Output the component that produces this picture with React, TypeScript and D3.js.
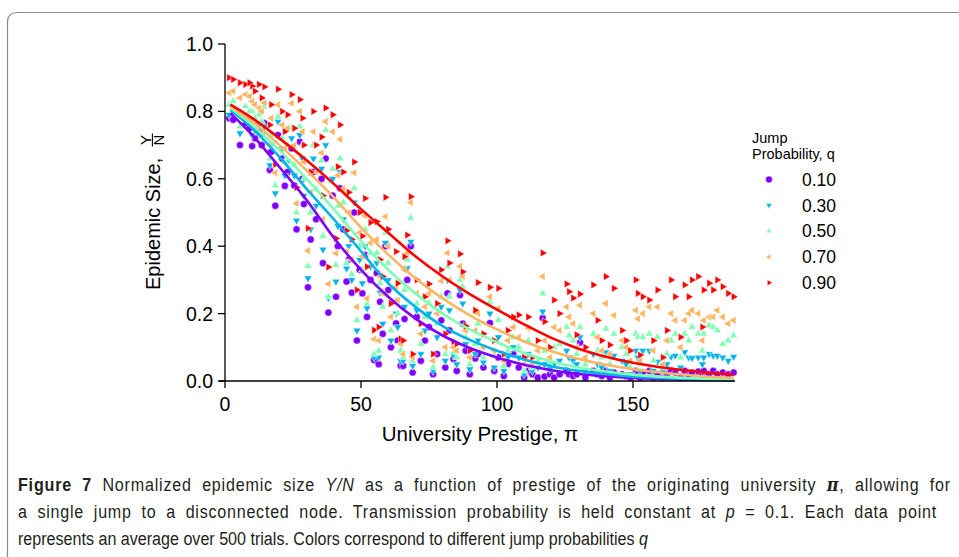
import React, { useLayoutEffect, useRef, useState } from "react";
import * as d3 from "d3";

// ---- data ----
const prestige = [1.5,3,5.5,7.5,10,12.5,14.5,16.5,18.5,19.5,22,24.5,26.3,27.5,29,30.5,32.5,35.5,37,38,39.6,40.8,41.5,42.3,44.7,46.6,47.5,49.5,51.5,52.2,54.8,55.8,57,59,61,62.9,64.6,65.5,66,67,68.3,69,70.5,72,73.5,75,76.5,78,79.5,81,81.8,82.5,84,85.2,86.4,87.4,88.5,90,92,93,95,97.4,99,100.5,102.5,104,106,108,110,111.5,113,115,116.8,117.5,119.5,121,123,125.6,126.5,128,129.3,130.5,132.5,135.4,137,138.5,140,141.5,143,146,147.5,149,151,151.8,152.6,153.6,156,157.5,159,161,162.5,164,165.5,167.5,169,170.5,171.7,174,175.5,176,178,179.5,181,183,185,187,
9,11,13.5,17,21,23,25.5,28.5,31.5,33.5,36,43.5,45.5,48.5,50.5,53.5,56.5,58,60,63.5];

const q10 = [.78,.775,.70,.76,.697,.74,.765,.626,.52,.73,
.579,.69,.45,.71,.525,.278,.62,.60,.66,.203,
.55,.25,.40,.572,.295,.262,.50,.33,.374,.19,
.062,.32,.235,.40,.10,.171,.045,.045,.184,.30,
.40,.025,.19,.06,.12,.16,.02,.08,.18,.04,
.26,.15,.065,.03,.255,.17,.09,.02,.067,.08,
.04,.172,.03,.07,.015,.05,.08,.04,.01,.03,
.02,.01,.187,.013,.02,.01,.02,.03,.02,.015,
.02,.114,.01,.03,.02,.015,.03,.01,.025,.02,
.015,.01,.03,.02,.01,.025,.03,.01,.02,.01,
.02,.03,.025,.01,.03,.015,.025,.028,.02,.03,
.02,.03,.02,.025,.02,.025,
.75,.72,.70,.68,.66,.62,.58,.60,.42,.48,.35,.45,.36,.12,.26,.30,.05,.14,.27,.12];

const q30 = [.79,.80,.735,.78,.73,.765,.755,.64,.557,.77,
.61,.72,.476,.73,.55,.305,.66,.63,.70,.246,
.60,.295,.46,.62,.334,.30,.53,.36,.40,.216,
.07,.35,.262,.41,.12,.20,.06,.06,.22,.335,
.413,.045,.21,.08,.15,.20,.03,.13,.22,.06,
.30,.21,.075,.05,.27,.23,.11,.035,.08,.12,
.055,.20,.04,.13,.03,.07,.10,.07,.02,.08,
.03,.04,.206,.05,.035,.05,.06,.09,.07,.06,
.05,.13,.03,.08,.05,.04,.085,.03,.075,.06,
.05,.02,.09,.07,.03,.09,.09,.03,.057,.03,
.05,.072,.075,.04,.086,.07,.068,.07,.05,.07,
.08,.075,.075,.07,.06,.072,
.77,.745,.73,.70,.69,.65,.61,.66,.45,.52,.39,.48,.40,.15,.29,.34,.07,.17,.30,.16];

const q50 = [.82,.83,.755,.815,.80,.79,.814,.66,.58,.784,
.65,.75,.50,.755,.60,.341,.70,.654,.745,.25,
.63,.344,.52,.66,.35,.317,.572,.40,.45,.23,
.08,.38,.29,.44,.15,.24,.09,.07,.27,.36,
.484,.06,.23,.11,.19,.23,.04,.17,.25,.08,
.34,.25,.085,.07,.30,.28,.13,.05,.11,.17,
.07,.235,.075,.18,.045,.09,.13,.10,.03,.12,
.04,.06,.26,.09,.05,.10,.11,.16,.135,.12,
.08,.16,.05,.14,.09,.07,.155,.05,.14,.10,
.08,.04,.14,.13,.05,.13,.14,.06,.13,.04,
.08,.12,.14,.07,.14,.12,.16,.14,.09,.14,
.165,.16,.15,.11,.12,.135,
.80,.78,.77,.73,.72,.70,.64,.70,.50,.57,.43,.53,.45,.18,.33,.38,.09,.22,.35,.20];

const q70 = [.855,.86,.84,.85,.83,.81,.825,.70,.618,.82,
.69,.824,.527,.80,.65,.387,.74,.677,.77,.288,
.74,.379,.61,.717,.384,.36,.618,.44,.49,.245,
.124,.42,.31,.488,.19,.28,.11,.08,.33,.38,
.53,.07,.26,.14,.22,.26,.06,.20,.297,.10,
.38,.30,.10,.09,.34,.31,.15,.07,.15,.20,
.10,.25,.09,.216,.06,.12,.16,.13,.05,.157,
.05,.09,.31,.12,.07,.16,.15,.22,.19,.17,
.10,.225,.07,.20,.13,.09,.23,.08,.195,.12,
.10,.06,.21,.185,.06,.20,.22,.09,.22,.05,
.12,.20,.18,.10,.18,.20,.21,.20,.12,.18,
.19,.19,.21,.19,.17,.18,
.845,.82,.80,.78,.76,.75,.70,.74,.56,.62,.48,.57,.50,.22,.37,.41,.12,.26,.40,.24];

const q90 = [.90,.895,.885,.88,.875,.88,.873,.76,.643,.866,
.74,.85,.574,.835,.70,.453,.80,.724,.81,.338,
.79,.423,.636,.76,.446,.42,.65,.50,.542,.339,
.151,.473,.36,.545,.23,.384,.125,.12,.369,.433,
.547,.08,.30,.17,.25,.288,.08,.23,.33,.14,
.416,.35,.117,.11,.377,.324,.163,.09,.21,.292,
.14,.278,.12,.275,.08,.15,.19,.196,.07,.19,
.07,.12,.38,.176,.10,.24,.20,.288,.265,.246,
.137,.258,.10,.285,.18,.12,.31,.107,.275,.15,
.12,.09,.30,.26,.077,.25,.24,.12,.27,.07,
.15,.30,.25,.13,.285,.25,.30,.31,.16,.27,
.29,.27,.30,.28,.26,.25,
.885,.86,.84,.82,.80,.79,.75,.78,.62,.70,.55,.62,.56,.27,.43,.47,.16,.31,.45,.29];

// fitted curves
const fitX = [2,10,20,30,40,50,60,70,80,90,100,110,120,130,140,150,160,170,180,187];
const fit10 = [0.795,0.73,0.635,0.537,0.425,0.33,0.25,0.185,0.135,0.098,0.07,0.048,0.032,0.021,0.014,0.009,0.006,0.004,0.003,0.002];
const fit30 = [0.805,0.75,0.665,0.57,0.48,0.385,0.29,0.22,0.163,0.122,0.09,0.064,0.044,0.03,0.02,0.013,0.009,0.006,0.004,0.003];
const fit50 = [0.81,0.76,0.685,0.60,0.51,0.415,0.33,0.26,0.20,0.153,0.115,0.083,0.058,0.04,0.028,0.019,0.013,0.009,0.006,0.005];
const fit70 = [0.815,0.77,0.70,0.625,0.545,0.455,0.375,0.305,0.245,0.195,0.153,0.117,0.088,0.065,0.048,0.035,0.025,0.018,0.012,0.009];
const fit90 = [0.82,0.78,0.72,0.655,0.585,0.51,0.44,0.37,0.31,0.258,0.212,0.168,0.128,0.096,0.072,0.054,0.041,0.031,0.023,0.019];

const legendLabels = ["0.10", "0.30", "0.50", "0.70", "0.90"];
const xTicks = [0, 50, 100, 150];
const yTicks = [0, 0.2, 0.4, 0.6, 0.8, 1.0];

const seriesValues = [q10, q30, q50, q70, q90];
const seriesFits = [fit10, fit30, fit50, fit70, fit90];
const colors = ["#8000ff", "#00b4eb", "#80ffb4", "#ffb462", "#ff0000"];
const shapes = ["circle", "down", "up", "left", "right"];

function triPath(dir: string, r: number) {
  const rot: Record<string, number> = { up: 0, right: 90, down: 180, left: 270 };
  const base = [-90, 30, 150];
  const pts = base.map((a) => {
    const t = ((a + rot[dir]) * Math.PI) / 180;
    return [r * Math.cos(t), r * Math.sin(t)];
  });
  return `M${pts.map((p) => p[0].toFixed(2) + "," + p[1].toFixed(2)).join("L")}Z`;
}

function Marker({ shape, x, y, color, r }: any) {
  if (shape === "circle")
    return <circle cx={x} cy={y} r={r * 0.8} fill={color} stroke="#fff" strokeWidth={0.5} />;
  return (
    <path d={triPath(shape, r)} transform={`translate(${x},${y})`} fill={color} stroke="#fff" strokeWidth={0.5} />
  );
}

const SANS = "'Liberation Sans', Arial, Helvetica, sans-serif";
const CAP = "'Liberation Sans', Arial, sans-serif";

function Caption() {
  const r1 = useRef<SVGTextElement>(null);
  const r2 = useRef<SVGTextElement>(null);
  const r3 = useRef<SVGTextElement>(null);
  const [st, setSt] = useState({ sx: 0.87, ws1: 0, ws2: 0, ls1: 0, ls2: 0 });
  useLayoutEffect(() => {
    if (!r1.current || !r2.current || !r3.current) return;
    const L1 = r1.current.getComputedTextLength();
    const L2 = r2.current.getComputedTextLength();
    const L3 = r3.current.getComputedTextLength();
    const sx = 630 / L3;
    const t1 = r1.current.textContent || "";
    const t2 = r2.current.textContent || "";
    const n1 = t1.split(" ").length - 1;
    const n2 = t2.split(" ").length - 1;
    const E1 = Math.max(0, 933 / sx - L1);
    const E2 = Math.max(0, 919 / sx - L2);
    const ls1 = (0.5 * E1) / t1.length;
    const ls2 = (0.5 * E2) / t2.length;
    const ws1 = (0.5 * E1) / n1;
    const ws2 = (0.5 * E2) / n2;
    setSt({ sx, ws1, ws2, ls1, ls2 });
  }, []);
  return (
    <g transform={`translate(18,0) scale(${st.sx},1)`} fontFamily={CAP} fontSize={18} fill="#231f20">
      <text ref={r1} x={0} y={491} style={{ wordSpacing: st.ws1 + "px", letterSpacing: st.ls1 + "px" }}>
        <tspan fontWeight="bold">Figure 7</tspan>
        <tspan> Normalized epidemic size </tspan>
        <tspan fontStyle="italic">Y/N</tspan>
        <tspan> as a function of prestige of the originating university </tspan>
        <tspan fontStyle="italic" fontWeight="bold" fontFamily="'DejaVu Serif', serif">π</tspan>
        <tspan>, allowing for</tspan>
      </text>
      <text ref={r2} x={0} y={518} style={{ wordSpacing: st.ws2 + "px", letterSpacing: st.ls2 + "px" }}>
        <tspan>a single jump to a disconnected node. Transmission probability is held constant at </tspan>
        <tspan fontStyle="italic">p</tspan>
        <tspan> = 0.1. Each data point</tspan>
      </text>
      <text ref={r3} x={0} y={545}>
        <tspan>represents an average over 500 trials. Colors correspond to different jump probabilities </tspan>
        <tspan fontStyle="italic">q</tspan>
      </text>
    </g>
  );
}

export default function App() {
  const x = d3.scaleLinear().domain([0, 187.5]).range([225, 735]);
  const y = d3.scaleLinear().domain([0, 1]).range([381, 44]);
  const line = d3
    .line<number>()
    .x((_, i) => x(fitX[i]))
    .y((d) => y(d))
    .curve(d3.curveMonotoneX);

  return (
    <div style={{ position: "absolute", left: 0, top: 0 }}>
      <svg width={959} height={557} style={{ display: "block", background: "#fff" }}>
        <path d="M7.5,557 V22 Q7.5,12.5 17.5,12.5 H959" fill="none" stroke="#8a8a8a" strokeWidth={1.2} />

        {/* points */}
        {seriesValues.map((vals, si) => (
          <g key={"s" + si}>
            {vals.map((v, i) => (
              <Marker key={i} shape={shapes[si]} x={x(prestige[i])} y={y(v)} color={colors[si]} r={4.5} />
            ))}
          </g>
        ))}

        {/* fitted lines */}
        {seriesFits.map((f, si) => (
          <path key={"f" + si} d={line(f) || ""} fill="none" stroke={colors[si]} strokeWidth={2.6} />
        ))}

        {/* axes */}
        <line x1={225} x2={225} y1={y(1)} y2={y(0)} stroke="#000" strokeWidth={1.3} />
        <line x1={219} x2={x(187.5)} y1={381} y2={381} stroke="#000" strokeWidth={1.3} />
        {yTicks.map((t) => (
          <g key={"yt" + t}>
            <line x1={218} x2={225} y1={y(t)} y2={y(t)} stroke="#000" strokeWidth={1.3} />
            <text x={213} y={y(t) + 7} textAnchor="end" fontFamily={SANS} fontSize={19.5} fill="#000">
              {t.toFixed(1)}
            </text>
          </g>
        ))}
        {xTicks.map((t) => (
          <g key={"xt" + t}>
            <line x1={x(t)} x2={x(t)} y1={381} y2={388} stroke="#000" strokeWidth={1.3} />
            <text x={x(t)} y={411} textAnchor="middle" fontFamily={SANS} fontSize={19.5} fill="#000">
              {t}
            </text>
          </g>
        ))}

        <text x={480} y={441} textAnchor="middle" fontFamily={SANS} fontSize={20.5} fill="#000">
          University Prestige, π
        </text>

        <g transform="translate(160,210) rotate(-90)" fontFamily={SANS} fill="#000">
          <text x={-80} y={0} fontSize={20}>Epidemic Size,</text>
          <text x={70} y={-9.5} fontSize={15} textAnchor="middle">Y</text>
          <line x1={63.5} x2={76.5} y1={-7.6} y2={-7.6} stroke="#000" strokeWidth={1.1} />
          <text x={70} y={3.5} fontSize={15} textAnchor="middle">N</text>
        </g>

        {/* legend */}
        <text x={752} y={143} fontFamily={SANS} fontSize={14.5} fill="#000">Jump</text>
        <text x={752} y={158.5} fontFamily={SANS} fontSize={14.5} fill="#000">Probability, q</text>
        {legendLabels.map((lab, i) => {
          const ly = 179.5 + i * 25.8;
          return (
            <g key={"lg" + i}>
              <Marker shape={shapes[i]} x={769} y={ly} color={colors[i]} r={i === 0 ? 4.3 : 3.4} />
              <text x={802} y={ly + 6.3} fontFamily={SANS} fontSize={17.5} fill="#000">
                {lab}
              </text>
            </g>
          );
        })}

        <Caption />
      </svg>
    </div>
  );
}
